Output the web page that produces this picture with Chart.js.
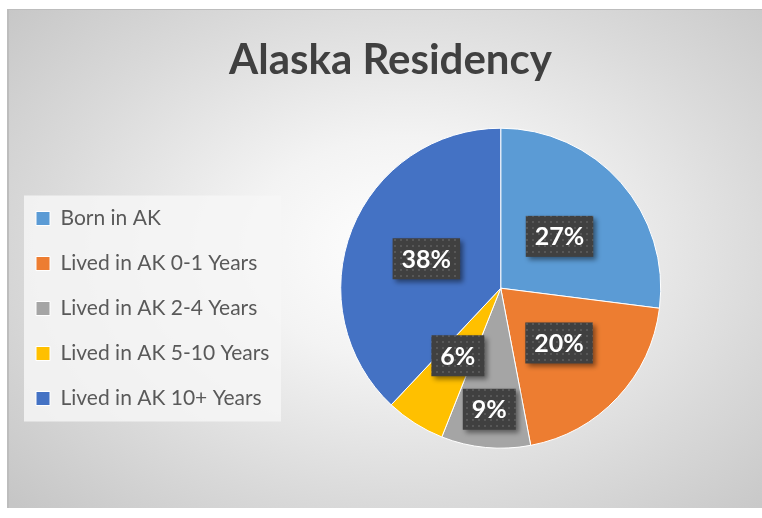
<!DOCTYPE html>
<html>
<head>
<meta charset="utf-8">
<script src="https://cdn.jsdelivr.net/npm/chart.js@4"></script>
<style>
  html, body { margin: 0; padding: 0; background: #fff; overflow: hidden; }
  #frame {
    position: absolute; left: 7px; top: 9px; width: 765px; height: 499px;
    box-sizing: border-box;
    border-top: 1px solid #bdbdbd; border-left: 2px solid #bdbdbd;
    background: radial-gradient(ellipse 70% 75% at 52% 48%, #ffffff 0%, #f3f3f3 30%, #dadada 68%, #c6c6c6 100%);
  }
  #wrap { position: absolute; left: 0; top: 0; width: 763px; height: 498px; }
</style>
</head>
<body>
<div id="frame"><div id="wrap"><canvas id="residencyChart"></canvas></div></div>
<script>
const categories = ["Born in AK", "Lived in AK 0-1 Years", "Lived in AK 2-4 Years", "Lived in AK 5-10 Years", "Lived in AK 10+ Years"];
const residents = [27, 20, 9, 6, 38];
const sliceColors = ["#5B9BD5", "#ED7D31", "#A5A5A5", "#FFC000", "#4472C4"];

// how far out (fraction of radius) each label box sits
const labelRadius = [0.49, 0.5, 0.76, 0.5, 0.5];

// dotted dark fill for label boxes
function makePattern(ctx) {
  const c = document.createElement("canvas");
  c.width = 6;
  c.height = 6;
  const p = c.getContext("2d");
  p.fillStyle = "#404040";
  p.fillRect(0, 0, 6, 6);
  p.fillStyle = "#575757";
  p.fillRect(1, 1, 2, 2);
  return ctx.createPattern(c, "repeat");
}

// center the title over the whole canvas, not just the padded area
const titleSpan = {
  id: "titleSpan",
  afterLayout(chart) {
    chart.titleBlock.left = 0;
    chart.titleBlock.right = chart.width;
  },
};

const legendBackground = {
  id: "legendBackground",
  beforeDraw(chart) {
    const boxes = chart.legend.legendHitBoxes;
    if (!boxes || !boxes.length) return;
    const first = boxes[0];
    const last = boxes[boxes.length - 1];
    const ctx = chart.ctx;
    ctx.save();
    ctx.fillStyle = "rgba(246,246,246,0.85)";
    ctx.fillRect(first.left - 12, first.top - 12.5, 257, last.top + last.height - first.top + 25);
    ctx.restore();
  },
};

const boxLabels = {
  id: "boxLabels",
  afterDatasetsDraw(chart) {
    const ctx = chart.ctx;
    const meta = chart.getDatasetMeta(0);
    const total = residents.reduce((a, b) => a + b, 0);
    const pattern = makePattern(ctx);
    meta.data.forEach((arc, i) => {
      const { x, y, startAngle, endAngle, outerRadius } = arc.getProps(
        ["x", "y", "startAngle", "endAngle", "outerRadius"], true);
      const mid = (startAngle + endAngle) / 2;
      const cx = x + Math.cos(mid) * outerRadius * labelRadius[i];
      const cy = y + Math.sin(mid) * outerRadius * labelRadius[i];
      const text = Math.round((residents[i] / total) * 100) + "%";
      ctx.save();
      ctx.font = "bold 25px Lato";
      const w = ctx.measureText(text).width + 18;
      const h = 41;
      ctx.shadowColor = "rgba(0,0,0,0.45)";
      ctx.shadowBlur = 5;
      ctx.shadowOffsetX = 3;
      ctx.shadowOffsetY = 3;
      ctx.fillStyle = pattern;
      ctx.fillRect(cx - w / 2, cy - h / 2, w, h);
      ctx.shadowColor = "transparent";
      ctx.fillStyle = "#ffffff";
      ctx.textAlign = "center";
      ctx.textBaseline = "middle";
      ctx.fillText(text, cx, cy + 1);
      ctx.restore();
    });
  },
};

Chart.defaults.font.family = "Lato";

new Chart(document.getElementById("residencyChart"), {
  type: "pie",
  data: {
    labels: categories,
    datasets: [
      {
        data: residents,
        backgroundColor: sliceColors,
        borderColor: "#ffffff",
        borderWidth: 1,
        radius: 160,
      },
    ],
  },
  options: {
    responsive: true,
    maintainAspectRatio: false,
    animation: false,
    layout: {
      padding: { left: 3, right: 50, top: 0, bottom: 17 },
    },
    plugins: {
      title: {
        display: true,
        text: "Alaska Residency",
        color: "#404040",
        font: { size: 42, weight: "bold" },
        padding: { top: 25, bottom: 0 },
      },
      legend: {
        position: "left",
        title: { display: true, text: "", font: { size: 10 }, padding: 52 },
        labels: {
          boxWidth: 14,
          boxHeight: 14,
          padding: 24,
          color: "#595959",
          font: { size: 21 },
        },
      },
      tooltip: { enabled: false },
    },
  },
  plugins: [titleSpan, legendBackground, boxLabels],
});
</script>
</body>
</html>
